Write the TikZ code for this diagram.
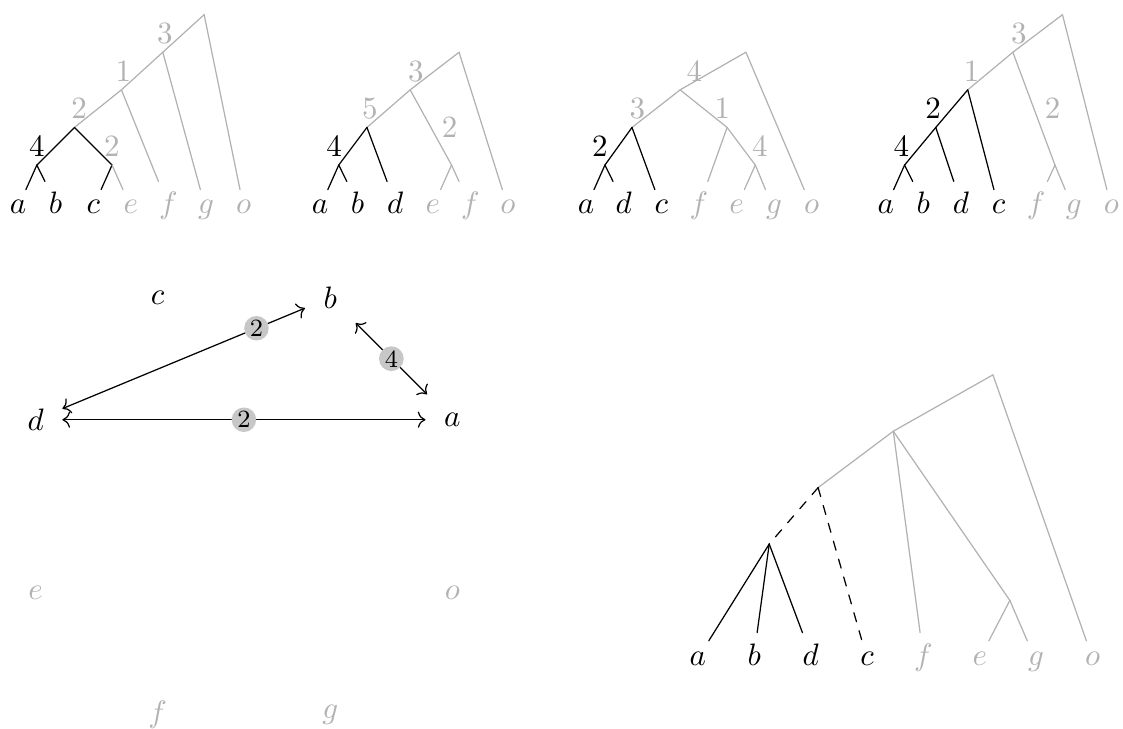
\documentclass[tikz,border=0pt]{standalone}
\usepackage{amsmath,amssymb}
\usepackage{tikz}
\usetikzlibrary{arrows.meta}
\usepackage{xcolor}

\begin{document}
\begin{tikzpicture}[x=0.4263cm,y=0.4263cm,>={To},line cap=round,
  gr/.style={black!30},
  leaf/.style={anchor=base},
  vtx/.style={outer sep=2.7pt},
  num/.style={circle,fill=black!22,inner sep=0.4pt,font=\footnotesize,text=black}]
\useasboundingbox (0,0) rectangle (29.87,-19.39);
% first tree
\begin{scope}[shift={(0.48,-4.39)}]
\coordinate (t1r) at (4.95,4);
\coordinate (t1p) at (3.85,3);
\coordinate (t1q) at (2.75,2);
\coordinate (t1s) at (1.5,1);
\coordinate (t1ab) at (0.5,0);
\coordinate (t1ce) at (2.5,0);
\foreach \l/\x in {a/0,b/1,c/2} \node[leaf] (t1\l) at (\x,-1.3) {$\l$};
\foreach \l/\x in {e/3,f/4,g/5,o/6} \node[leaf,gr] (t1\l) at (\x,-1.3) {$\l$};
\draw[gr] (t1r) -- node[left]{3} (t1p);
\draw[gr] (t1r) -- (t1o);
\draw[gr] (t1p) -- node[left]{1} (t1q);
\draw[gr] (t1p) -- (t1g);
\draw[gr] (t1q) -- node[left]{2} (t1s);
\draw[gr] (t1q) -- (t1f);
\draw (t1s) -- node[left]{4} (t1ab);
\draw (t1s) -- node[right,gr]{2} (t1ce);
\draw (t1ab) -- (t1a);
\draw (t1ab) -- (t1b);
\draw (t1ce) -- (t1c);
\draw[gr] (t1ce) -- (t1e);
\end{scope}
% second tree
\begin{scope}[shift={(8.51,-4.39)}]
\coordinate (t2r) at (3.7,3);
\coordinate (t2p) at (2.4,2);
\coordinate (t2q) at (1.25,1);
\coordinate (t2ab) at (0.5,0);
\coordinate (t2ef) at (3.5,0);
\foreach \l/\x in {a/0,b/1,d/2} \node[leaf] (t2\l) at (\x,-1.3) {$\l$};
\foreach \l/\x in {e/3,f/4,o/5} \node[leaf,gr] (t2\l) at (\x,-1.3) {$\l$};
\draw[gr] (t2r) -- node[left]{3} (t2p);
\draw[gr] (t2r) -- (t2o);
\draw[gr] (t2p) -- node[left]{5} (t2q);
\draw[gr] (t2p) -- node[right]{2} (t2ef);
\draw[gr] (t2ef) -- (t2e);
\draw[gr] (t2ef) -- (t2f);
\draw (t2q) -- node[left]{4} (t2ab);
\draw (t2q) -- (t2d);
\draw (t2ab) -- (t2a);
\draw (t2ab) -- (t2b);
\end{scope}
% third tree
\begin{scope}[shift={(15.59,-4.39)}]
\coordinate (t3r) at (4.25,3);
\coordinate (t3p) at (2.5,2);
\coordinate (t3q) at (1.22,1);
\coordinate (t3ad) at (0.5,0);
\coordinate (t3s) at (3.75,1);
\coordinate (t3eg) at (4.5,0);
\foreach \l/\x in {a/0,d/1,c/2} \node[leaf] (t3\l) at (\x,-1.3) {$\l$};
\foreach \l/\x in {f/3,e/4,g/5,o/6} \node[leaf,gr] (t3\l) at (\x,-1.3) {$\l$};
\draw[gr] (t3r) -- node[left]{4} (t3p);
\draw[gr] (t3r) -- (t3o);
\draw[gr] (t3p) -- node[left]{3} (t3q);
\draw[gr] (t3p) -- node[right]{1} (t3s);
\draw[gr] (t3s) -- (t3f);
\draw[gr] (t3s) -- node[right]{4} (t3eg);
\draw[gr] (t3eg) -- (t3e);
\draw[gr] (t3eg) -- (t3g);
\draw (t3q) -- node[left]{2} (t3ad);
\draw (t3q) -- (t3c);
\draw (t3ad) -- (t3a);
\draw (t3ad) -- (t3d);
\end{scope}
% fourth tree
\begin{scope}[shift={(23.56,-4.39)}]
\coordinate (t4r) at (4.7,4);
\coordinate (t4p) at (3.38,3);
\coordinate (t4q) at (2.18,2);
\coordinate (t4s) at (1.33,1);
\coordinate (t4ab) at (0.5,0);
\coordinate (t4fg) at (4.5,0);
\foreach \l/\x in {a/0,b/1,d/2,c/3} \node[leaf] (t4\l) at (\x,-1.3) {$\l$};
\foreach \l/\x in {f/4,g/5,o/6} \node[leaf,gr] (t4\l) at (\x,-1.3) {$\l$};
\draw[gr] (t4r) -- node[left]{3} (t4p);
\draw[gr] (t4r) -- (t4o);
\draw[gr] (t4p) -- node[left]{1} (t4q);
\draw[gr] (t4p) -- node[right]{2} (t4fg);
\draw[gr] (t4fg) -- (t4f);
\draw[gr] (t4fg) -- (t4g);
\draw (t4q) -- node[left]{2} (t4s);
\draw (t4q) -- (t4c);
\draw (t4s) -- node[left]{4} (t4ab);
\draw (t4s) -- (t4d);
\draw (t4ab) -- (t4a);
\draw (t4ab) -- (t4b);
\end{scope}
% graph of the leaves
\begin{scope}[shift={(6.49,-13.46)}]
\foreach \l/\a in {a/22.5,b/67.5,c/112.5,d/157.5} \node[vtx] (g\l) at (\a:6) {$\l$};
\foreach \l/\a in {e/202.5,f/247.5,g/292.5,o/337.5} \node[vtx,gr] (g\l) at (\a:6) {$\l$};
\draw[<->] (gd) -- node[num,pos=0.8]{2} (gb);
\draw[<->] (gb) -- node[num]{4} (ga);
\draw[<->] (gd) -- node[num]{2} (ga);
\end{scope}
% merged tree
\begin{scope}[shift={(18.56,-14.47)}]
\coordinate (br) at (7.85,4.5);
\coordinate (bA) at (5.2,3);
\coordinate (bB) at (3.2,1.5);
\coordinate (bC) at (1.9,0);
\coordinate (beg) at (8.3,-1.5);
\foreach \l/\x in {a/0,b/1.5,d/3,c/4.5} \node[leaf] (b\l) at (\x,-3.22) {$\l$};
\foreach \l/\x in {f/6,e/7.5,g/9,o/10.5} \node[leaf,gr] (b\l) at (\x,-3.22) {$\l$};
\draw[gr] (br) -- (bA);
\draw[gr] (br) -- (bo);
\draw[gr] (bA) -- (bB);
\draw[gr] (bA) -- (bf);
\draw[gr] (bA) -- (beg);
\draw[gr] (beg) -- (be);
\draw[gr] (beg) -- (bg);
\draw[dashed] (bB) -- (bC);
\draw[dashed] (bB) -- (bc);
\draw (bC) -- (ba);
\draw (bC) -- (bb);
\draw (bC) -- (bd);
\end{scope}
\end{tikzpicture}
\end{document}
